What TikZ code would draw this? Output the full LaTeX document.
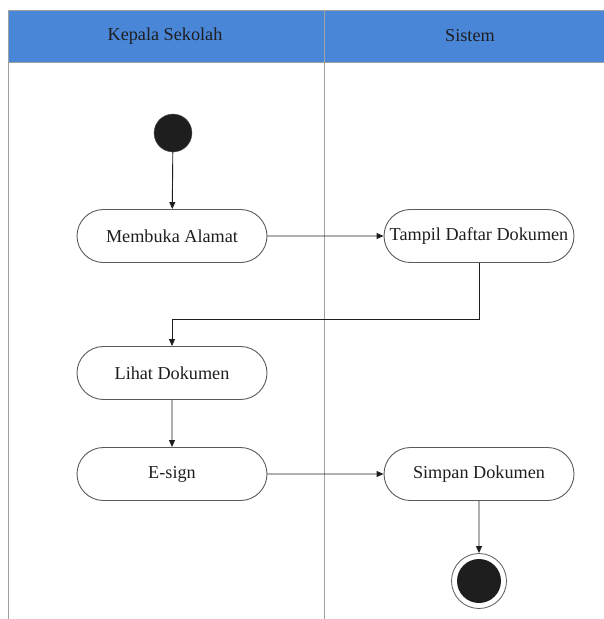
\documentclass[tikz,border=0pt]{standalone}
\usepackage{fontspec}
\setmainfont{Liberation Serif}
\usetikzlibrary{arrows.meta,shapes.misc}
\definecolor{laneblue}{HTML}{4A86D8}
\definecolor{laneline}{HTML}{A0A0A0}
\definecolor{boxline}{HTML}{5A5A5A}
\definecolor{ink}{HTML}{1E1E1E}
\begin{document}
\begin{tikzpicture}[x=1pt,y=-1pt,
  label text/.style={font=\fontsize{18.2}{20}\selectfont,text=ink},
  action/.style={draw=boxline,line width=0.9pt,rounded rectangle,minimum width=194pt,minimum height=53pt,inner xsep=2pt,label text},
  flow/.style={draw=ink,line width=0.9pt,-{Triangle[length=7pt,width=6pt]}},
  lane/.style={draw=laneline,line width=0.8pt}]
\useasboundingbox (0,0) rectangle (604,619);
% swimlane header
\fill[laneblue] (8,10) rectangle (604,62);
\draw[lane] (8,619) -- (8,10) -- (604,10);
\draw[lane] (8,62) -- (604,62);
\draw[lane] (324,10) -- (324,619);
\node[label text] (laneA) at (165,36) {Kepala Sekolah};
\node[label text] (laneB) at (470,36) {Sistem};
% activities
\node[circle,fill=ink,draw=boxline,minimum size=38pt,inner sep=0pt] (start) at (173,133) {};
\node[action] (buka) at (172,236) {Membuka Alamat};
\node[action] (tampil) at (479,236) {Tampil Daftar Dokumen};
\node[action] (lihat) at (172,373) {Lihat Dokumen};
\node[action] (esign) at (172,474) {E-sign};
\node[action] (simpan) at (479,474) {Simpan Dokumen};
\node[circle,draw=boxline,line width=0.8pt,minimum size=55pt,inner sep=0pt] (end) at (479,581) {};
\node[circle,fill=ink,minimum size=44pt,inner sep=0pt] (endin) at (end) {};
% transitions
\draw[flow] (start) -- (buka);
\draw[flow] (buka) -- (tampil);
\draw[flow] (tampil.south) -- ++(0,56) -| (lihat.north);
\draw[flow] (lihat) -- (esign);
\draw[flow] (esign) -- (simpan);
\draw[flow] (simpan) -- (end);
\end{tikzpicture}
\end{document}
